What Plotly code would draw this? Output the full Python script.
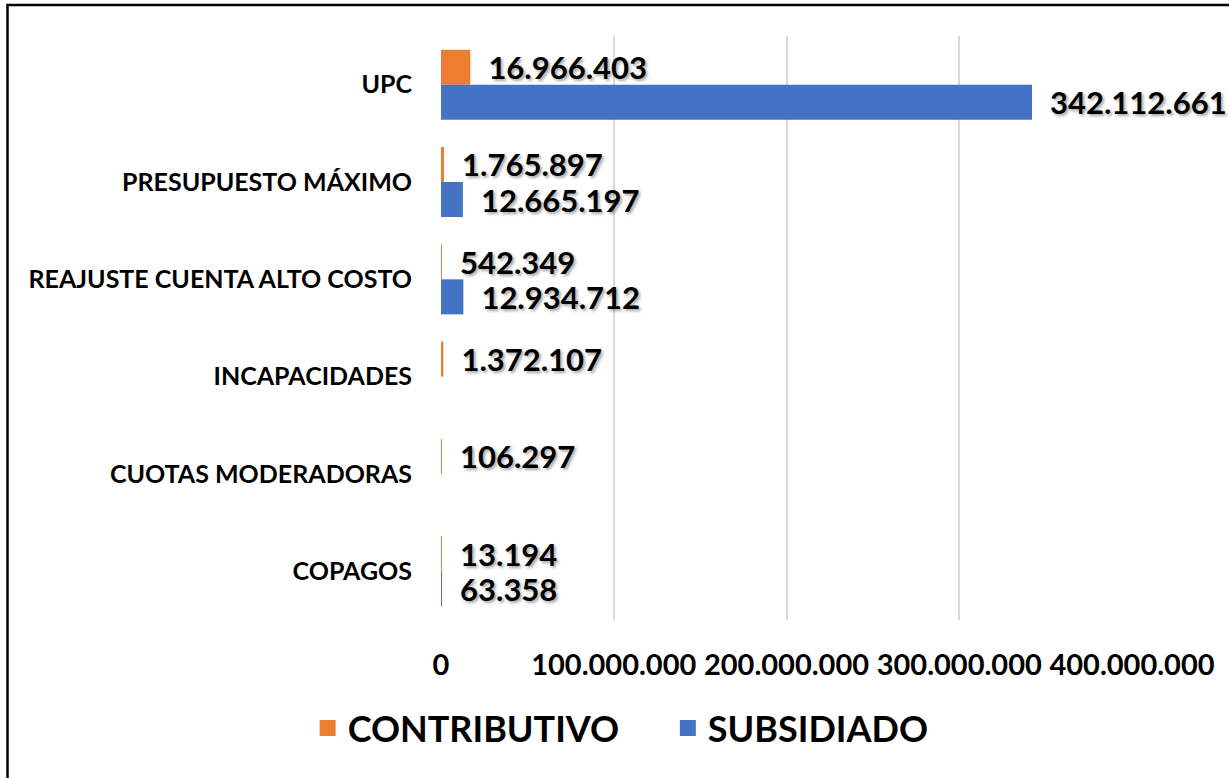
import plotly.graph_objects as go

categories = ["UPC", "PRESUPUESTO MÁXIMO", "REAJUSTE CUENTA ALTO COSTO",
              "INCAPACIDADES", "CUOTAS MODERADORAS", "COPAGOS"]
contributivo = [16966403, 1765897, 542349, 1372107, 106297, 13194]
subsidiado = [342112661, 12665197, 12934712, None, None, 63358]
x_ticks = [0, 100000000, 200000000, 300000000, 400000000]
series_names = ["CONTRIBUTIVO", "SUBSIDIADO"]
series_colors = ["#ED7D31", "#4472C4"]

FONT = "Lato"
shadow = "2px 2px 3px rgba(0,0,0,0.35)"

fig = go.Figure()
for name, vals, color in zip(series_names, [contributivo, subsidiado], series_colors):
    fig.add_trace(go.Bar(
        name=name, y=categories, x=vals, orientation="h",
        marker=dict(color=color, line=dict(width=0)),
        texttemplate="\u00a0\u00a0%{x:,.0f}", textposition="outside",
        textfont=dict(family=FONT, size=31, color="black", weight="bold", shadow=shadow),
        cliponaxis=False, constraintext="none", showlegend=False,
    ))
# legend entries with larger square swatches (extra spacing after the first entry)
legend_labels = [series_names[0] + "\u00a0" * 5, series_names[1]]
for name, color in zip(legend_labels, series_colors):
    fig.add_trace(go.Scatter(
        name=name, x=[None], y=[None], mode="markers",
        marker=dict(symbol="square", size=20, color=color),
        showlegend=True, hoverinfo="skip",
    ))

W, H = 1229, 778
L, R, T, B = 441, 97, 36, 158
pw, ph = W - L - R, H - T - B

def px_x(p):
    return (p - L) / pw

def px_y(p):
    return (H - B - p) / ph

fig.update_layout(
    width=W, height=H,
    margin=dict(l=L, r=R, t=T, b=B, autoexpand=False),
    paper_bgcolor="white", plot_bgcolor="white",
    separators=",.",
    barmode="group", bargap=0.28, bargroupgap=0,
    font=dict(family=FONT, color="black"),
    xaxis=dict(range=[0, 400000000], tickvals=x_ticks, tickformat=",.0f",
               showgrid=True, gridcolor="#d9d9d9", gridwidth=1.5,
               zeroline=False, showline=False,
               tickfont=dict(family=FONT, size=29, color="black", weight="bold"),
               ticklabelstandoff=25),
    yaxis=dict(autorange="reversed", showgrid=False, showline=False, zeroline=False,
               tickfont=dict(family=FONT, size=25, color="black", weight="bold"),
               ticklabelstandoff=28, categoryorder="array", categoryarray=categories),
    legend=dict(orientation="h", xref="container", yref="container",
                x=0.505, xanchor="center", y=1 - 728 / H, yanchor="middle",
                font=dict(family=FONT, size=36, color="black", weight="bold"),
                itemwidth=30, entrywidth=0),
    shapes=[dict(type="rect", xref="paper", yref="paper",
                 x0=px_x(7.5), x1=px_x(1245), y0=px_y(795), y1=px_y(5),
                 line=dict(color="black", width=2.5), fillcolor="rgba(0,0,0,0)",
                 layer="above")],
)

fig.write_html("out.html", config={"displayModeBar": False},
               post_script="document.body.style.margin='0';")
